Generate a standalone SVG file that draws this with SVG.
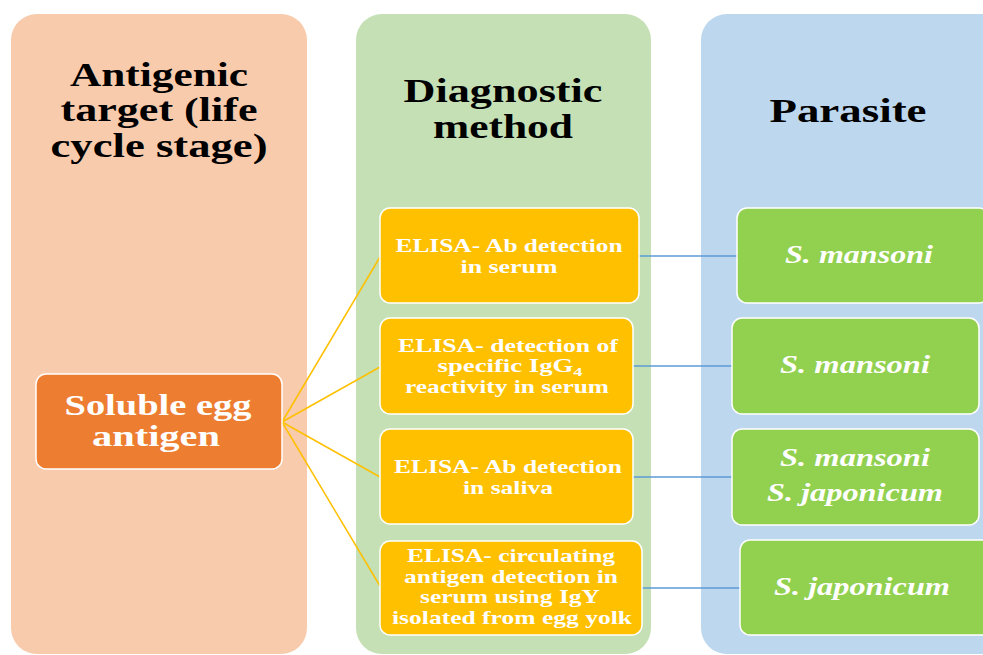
<svg xmlns="http://www.w3.org/2000/svg" width="983" height="655" viewBox="0 0 983 655">
<style>
text{lengthAdjust:spacingAndGlyphs}
.hdr{font-family:"Liberation Serif","Times New Roman",serif;font-weight:bold;font-size:33px;fill:#000;text-anchor:middle}
.src{font-family:"Liberation Serif","Times New Roman",serif;font-weight:bold;font-size:29px;fill:#fff;text-anchor:middle}
.mth{font-family:"Liberation Serif","Times New Roman",serif;font-weight:bold;font-size:19px;fill:#fff;text-anchor:middle}
.par{font-family:"Liberation Serif","Times New Roman",serif;font-weight:bold;font-style:italic;font-size:25px;fill:#fff;text-anchor:middle}
.node{stroke:#fff;stroke-width:1.5}
.cy{stroke:#FFC000;stroke-width:1.5;fill:none}
.cb{stroke:#5B9BD5;stroke-width:1.5;fill:none}
</style>
<rect width="983" height="655" fill="#fff"/>
<g id="col-antigen">
<rect x="11" y="14" width="296" height="640" rx="26" fill="#F8CBAD"/>
<text class="hdr" x="159" y="86" textLength="178" lengthAdjust="spacingAndGlyphs">Antigenic</text>
<text class="hdr" x="159" y="121" textLength="197" lengthAdjust="spacingAndGlyphs">target (life</text>
<text class="hdr" x="159" y="157" textLength="217" lengthAdjust="spacingAndGlyphs">cycle stage)</text>
</g>
<g id="col-method">
<rect x="356" y="14" width="295" height="640" rx="26" fill="#C5E0B4"/>
<text class="hdr" x="503" y="102" textLength="199" lengthAdjust="spacingAndGlyphs">Diagnostic</text>
<text class="hdr" x="503" y="138" textLength="140" lengthAdjust="spacingAndGlyphs">method</text>
</g>
<g id="col-parasite">
<rect x="701" y="14" width="310" height="640" rx="26" fill="#BDD7EE"/>
<text class="hdr" x="848" y="122" textLength="157" lengthAdjust="spacingAndGlyphs">Parasite</text>
</g>
<g id="connectors">
<line class="cy" x1="282" y1="422" x2="380" y2="257"/>
<line class="cy" x1="282" y1="422" x2="380" y2="367"/>
<line class="cy" x1="282" y1="422" x2="380" y2="477"/>
<line class="cy" x1="282" y1="422" x2="380" y2="586"/>
<line class="cb" x1="639" y1="256" x2="737" y2="256"/>
<line class="cb" x1="633" y1="366" x2="732" y2="366"/>
<line class="cb" x1="633" y1="477" x2="732" y2="477"/>
<line class="cb" x1="642" y1="588" x2="740" y2="588"/>
</g>
<g id="soluble-egg-antigen">
<rect class="node" x="36" y="374" width="246" height="95" rx="10" fill="#ED7D31"/>
<text class="src" x="158" y="415" textLength="187" lengthAdjust="spacingAndGlyphs">Soluble egg</text>
<text class="src" x="156" y="446" textLength="128" lengthAdjust="spacingAndGlyphs">antigen</text>
</g>
<g id="m1">
<rect class="node" x="380" y="208" width="259" height="95" rx="10" fill="#FFC000"/>
<text class="mth" x="509" y="252" textLength="227" lengthAdjust="spacingAndGlyphs">ELISA- Ab detection</text>
<text class="mth" x="509" y="273" textLength="97" lengthAdjust="spacingAndGlyphs">in serum</text>
</g>
<g id="m2">
<rect class="node" x="380" y="318" width="253" height="96" rx="10" fill="#FFC000"/>
<text class="mth" x="508" y="352" textLength="220" lengthAdjust="spacingAndGlyphs">ELISA- detection of</text>
<text class="mth" x="510" y="372" textLength="145" lengthAdjust="spacingAndGlyphs">specific IgG<tspan font-size="13" dy="4">4</tspan></text>
<text class="mth" x="507" y="393" textLength="204" lengthAdjust="spacingAndGlyphs">reactivity in serum</text>
</g>
<g id="m3">
<rect class="node" x="380" y="429" width="253" height="95" rx="10" fill="#FFC000"/>
<text class="mth" x="508" y="473" textLength="228" lengthAdjust="spacingAndGlyphs">ELISA- Ab detection</text>
<text class="mth" x="508" y="494" textLength="90" lengthAdjust="spacingAndGlyphs">in saliva</text>
</g>
<g id="m4">
<rect class="node" x="380" y="541" width="262" height="94" rx="10" fill="#FFC000"/>
<text class="mth" x="511" y="562" textLength="208" lengthAdjust="spacingAndGlyphs">ELISA- circulating</text>
<text class="mth" x="511" y="583" textLength="214" lengthAdjust="spacingAndGlyphs">antigen detection in</text>
<text class="mth" x="510" y="603" textLength="180" lengthAdjust="spacingAndGlyphs">serum using IgY</text>
<text class="mth" x="512" y="624" textLength="240" lengthAdjust="spacingAndGlyphs">isolated from egg yolk</text>
</g>
<g id="p1">
<rect class="node" x="737" y="208" width="252" height="95" rx="10" fill="#92D050"/>
<text class="par" x="859" y="263" textLength="148" lengthAdjust="spacingAndGlyphs">S. mansoni</text>
</g>
<g id="p2">
<rect class="node" x="732" y="318" width="247" height="96" rx="10" fill="#92D050"/>
<text class="par" x="855" y="373" textLength="150" lengthAdjust="spacingAndGlyphs">S. mansoni</text>
</g>
<g id="p3">
<rect class="node" x="732" y="429" width="247" height="96" rx="10" fill="#92D050"/>
<text class="par" x="855" y="466" textLength="150" lengthAdjust="spacingAndGlyphs">S. mansoni</text>
<text class="par" x="855" y="501" textLength="176" lengthAdjust="spacingAndGlyphs">S. japonicum</text>
</g>
<g id="p4">
<rect class="node" x="740" y="540" width="252" height="95" rx="10" fill="#92D050"/>
<text class="par" x="862" y="595" textLength="176" lengthAdjust="spacingAndGlyphs">S. japonicum</text>
</g>
</svg>
